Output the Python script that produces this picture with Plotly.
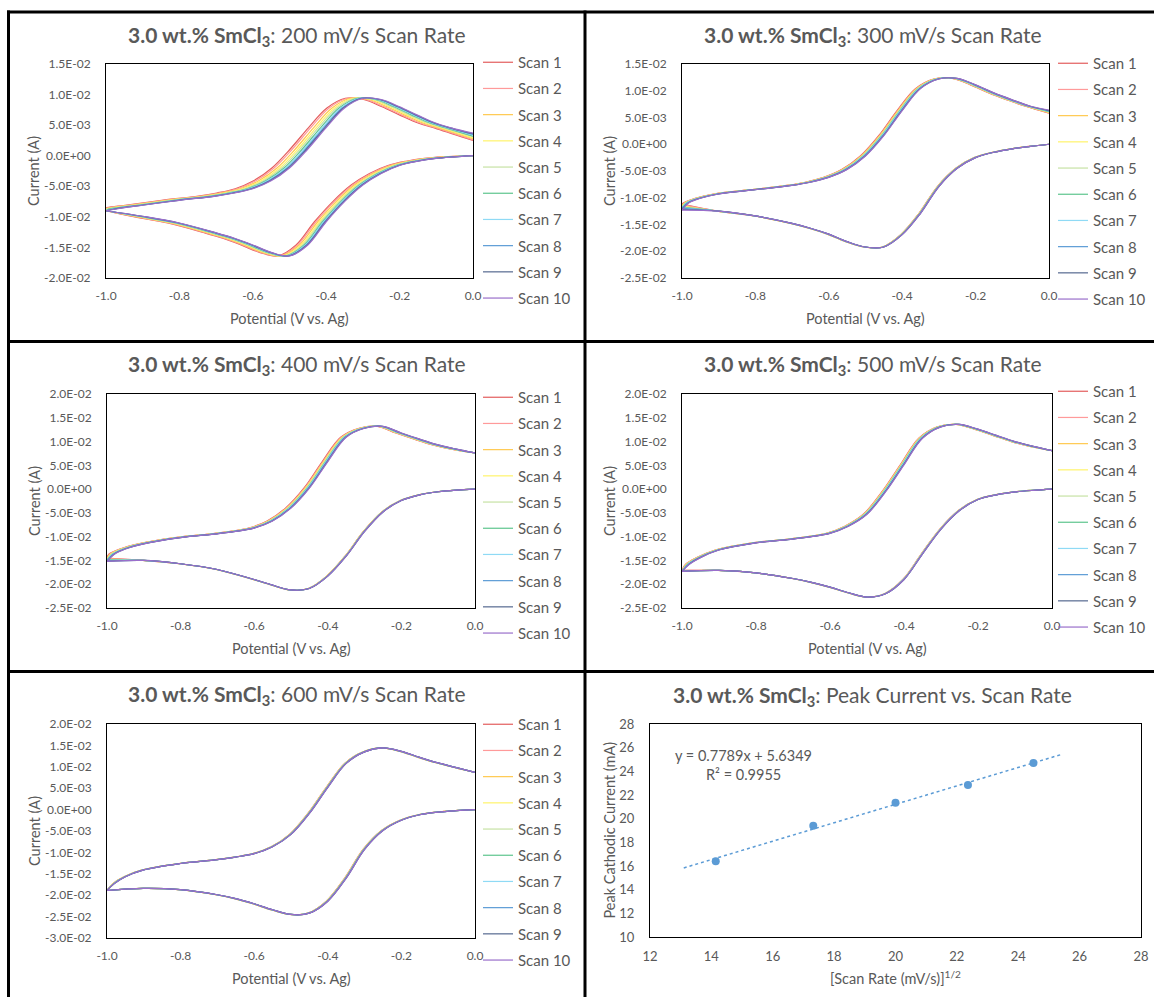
import plotly.graph_objects as go

W, H = 1154, 997
FONT = "Lato"
GRAY = "#595959"

# ---------------- data ----------------
scan_names = ["Scan 1", "Scan 2", "Scan 3", "Scan 4", "Scan 5",
              "Scan 6", "Scan 7", "Scan 8", "Scan 9", "Scan 10"]
scan_colors = ["#E35D5D", "#FF9A9A", "#FFC94F", "#FFF36A", "#C6E2A4",
               "#5DC58D", "#8FDAF5", "#5B9BD5", "#55688F", "#9A6FCB"]

# potential grid (V vs. Ag): cathodic sweep 0 -> -1, anodic sweep -1 -> 0
E_cat = [0.0, -0.05, -0.1, -0.15, -0.2, -0.25, -0.3, -0.35, -0.4, -0.45,
         -0.5, -0.55, -0.6, -0.65, -0.7, -0.8, -0.9, -1.0]
E_ano = [-1.0, -0.98, -0.95, -0.9, -0.8, -0.7, -0.65, -0.6, -0.55, -0.5, -0.45,
         -0.4, -0.35, -0.3, -0.25, -0.2, -0.15, -0.1, -0.05, 0.0]

# currents in mA (last scan), per-scan potential shifts (V), vertex & end currents (mA)
i_cat_200 = [0.0, -0.2, -0.45, -0.9, -1.6, -2.9, -4.8, -7.5, -10.8, -14.6,
             -16.4, -15.8, -14.6, -13.5, -12.6, -11.0, -9.9, -9.0]
i_ano_200 = [-9.0, -8.8, -8.5, -8.1, -7.3, -6.6, -6.1, -5.4, -4.1, -2.0, 1.1,
             4.6, 7.8, 9.4, 9.2, 8.0, 6.6, 5.3, 4.4, 3.7]
shift_cat_200 = [-0.032, -0.028, -0.023, -0.018, -0.014, -0.010, -0.007, -0.004, -0.002, 0.0]
shift_ano_200 = [-0.048, -0.042, -0.034, -0.027, -0.021, -0.015, -0.010, -0.006, -0.003, 0.0]
vertex_200 = [-9.0, -9.0, -9.0, -9.0, -9.0, -9.0, -9.0, -9.0, -9.0, -9.0]
end_200 = [2.5, 2.6, 2.8, 2.9, 3.1, 3.2, 3.35, 3.5, 3.6, 3.7]

i_cat_300 = [0.0, -0.4, -0.85, -1.5, -2.5, -4.5, -7.9, -12.9, -16.9, -19.2,
             -19.2, -18.2, -16.8, -15.7, -14.8, -13.4, -12.5, -12.0]
i_ano_300 = [-12.0, -10.9, -10.1, -9.3, -8.5, -7.7, -7.1, -6.2, -4.7, -2.2, 1.6,
             6.3, 10.4, 12.2, 12.3, 11.1, 9.6, 8.3, 7.1, 6.3]
shift_cat_300 = [-0.004, -0.004, -0.003, -0.003, -0.002, -0.002, -0.001, -0.001, 0.0, 0.0]
shift_ano_300 = [-0.014, -0.012, -0.011, -0.009, -0.008, -0.006, -0.005, -0.003, -0.001, 0.0]
vertex_300 = [-11.2, -11.3, -11.5, -11.6, -11.7, -11.8, -11.9, -12.0, -12.2, -12.3]
end_300 = [5.8, 5.85, 5.9, 6.0, 6.05, 6.1, 6.2, 6.25, 6.3, 6.4]

i_cat_400 = [0.0, -0.2, -0.55, -1.2, -2.4, -4.8, -8.9, -14.1, -18.3, -20.9,
             -21.2, -20.2, -19.0, -17.9, -16.9, -15.7, -15.0, -15.0]
i_ano_400 = [-15.0, -13.7, -12.6, -11.5, -10.2, -9.4, -8.9, -8.2, -6.7, -4.0, 0.2,
             5.8, 10.9, 12.8, 13.2, 11.8, 10.5, 9.3, 8.4, 7.6]
shift_cat_400 = [-0.003, -0.003, -0.003, -0.002, -0.002, -0.001, -0.001, -0.001, 0.0, 0.0]
shift_ano_400 = [-0.015, -0.013, -0.011, -0.010, -0.008, -0.006, -0.005, -0.003, -0.001, 0.0]
vertex_400 = [-14.5, -14.6, -14.7, -14.8, -14.9, -14.9, -15.0, -15.1, -15.2, -15.2]
end_400 = [7.6, 7.6, 7.6, 7.6, 7.6, 7.6, 7.6, 7.6, 7.6, 7.6]

i_cat_500 = [0.0, -0.25, -0.6, -1.2, -2.2, -4.5, -8.4, -13.6, -19.0, -22.0,
             -22.7, -21.8, -20.6, -19.6, -18.8, -17.6, -17.1, -17.3]
i_ano_500 = [-17.3, -15.8, -14.4, -12.8, -11.3, -10.5, -10.0, -9.3, -7.8, -5.3, -0.6,
             5.1, 10.7, 13.1, 13.6, 12.6, 11.3, 10.0, 9.0, 8.1]
shift_cat_500 = [-0.003, -0.003, -0.002, -0.002, -0.002, -0.001, -0.001, 0.0, 0.0, 0.0]
shift_ano_500 = [-0.010, -0.009, -0.008, -0.007, -0.006, -0.005, -0.004, -0.002, -0.001, 0.0]
vertex_500 = [-17.1, -17.1, -17.2, -17.2, -17.2, -17.3, -17.3, -17.3, -17.3, -17.3]
end_500 = [8.1, 8.1, 8.1, 8.1, 8.1, 8.1, 8.1, 8.1, 8.1, 8.1]

i_cat_600 = [0.0, -0.25, -0.6, -1.2, -2.5, -4.9, -9.3, -16.0, -21.4, -24.2,
             -24.5, -23.4, -22.0, -20.8, -19.9, -18.7, -18.4, -18.9]
i_ano_600 = [-18.9, -17.3, -15.7, -14.1, -12.6, -11.7, -11.1, -10.3, -8.7, -5.8, -0.9,
             5.2, 10.8, 13.5, 14.4, 13.6, 12.2, 10.9, 9.8, 8.7]
shift_cat_600 = [-0.004, -0.004, -0.003, -0.003, -0.002, -0.002, -0.001, -0.001, 0.0, 0.0]
shift_ano_600 = [-0.004, -0.004, -0.003, -0.003, -0.002, -0.002, -0.001, -0.001, 0.0, 0.0]
vertex_600 = [-18.9, -18.9, -18.9, -18.9, -18.9, -18.9, -18.9, -18.9, -18.9, -18.9]
end_600 = [8.7, 8.7, 8.7, 8.7, 8.7, 8.7, 8.7, 8.7, 8.7, 8.7]

x_ticks_cv = [-1.0, -0.8, -0.6, -0.4, -0.2, 0.0]
y_ticks_200 = [-0.020, -0.015, -0.010, -0.005, 0.0, 0.005, 0.010, 0.015]
y_ticks_300 = [-0.025, -0.020, -0.015, -0.010, -0.005, 0.0, 0.005, 0.010, 0.015]
y_ticks_400 = [-0.025, -0.020, -0.015, -0.010, -0.005, 0.0, 0.005, 0.010, 0.015, 0.020]
y_ticks_500 = [-0.025, -0.020, -0.015, -0.010, -0.005, 0.0, 0.005, 0.010, 0.015, 0.020]
y_ticks_600 = [-0.030, -0.025, -0.020, -0.015, -0.010, -0.005, 0.0, 0.005, 0.010, 0.015, 0.020]

# peak current vs scan rate
scan_rates = [200, 300, 400, 500, 600]           # mV/s
peak_cathodic = [16.4, 19.4, 21.35, 22.85, 24.7]  # mA
fit_slope, fit_intercept, fit_r2 = 0.7789, 5.6349, 0.9955
fit_x_range = [13.1, 25.45]

# ---------------- layout helpers ----------------
def px(p):
    return p / W

def py(p):
    return 1 - p / H

TICK = 12
LEG = 15
TTL = 21
AX = 14.5

panels = [
    dict(rate=200, i_cat=i_cat_200, i_ano=i_ano_200, s_cat=shift_cat_200, s_ano=shift_ano_200,
         vtx=vertex_200, end=end_200, yt=y_ticks_200, xd=(106, 473), yd=(64, 278),
         leg=(478, 46), tc=(297, 36)),
    dict(rate=300, i_cat=i_cat_300, i_ano=i_ano_300, s_cat=shift_cat_300, s_ano=shift_ano_300,
         vtx=vertex_300, end=end_300, yt=y_ticks_300, xd=(682, 1049), yd=(64, 278),
         leg=(1053, 47), tc=(873, 36)),
    dict(rate=400, i_cat=i_cat_400, i_ano=i_ano_400, s_cat=shift_cat_400, s_ano=shift_ano_400,
         vtx=vertex_400, end=end_400, yt=y_ticks_400, xd=(107, 475), yd=(394, 608),
         leg=(478, 381), tc=(297, 365)),
    dict(rate=500, i_cat=i_cat_500, i_ano=i_ano_500, s_cat=shift_cat_500, s_ano=shift_ano_500,
         vtx=vertex_500, end=end_500, yt=y_ticks_500, xd=(682, 1052), yd=(394, 608),
         leg=(1053, 375), tc=(873, 365)),
    dict(rate=600, i_cat=i_cat_600, i_ano=i_ano_600, s_cat=shift_cat_600, s_ano=shift_ano_600,
         vtx=vertex_600, end=end_600, yt=y_ticks_600, xd=(107, 475), yd=(724, 938),
         leg=(478, 708), tc=(297, 695)),
]

fig = go.Figure()
layout = dict(width=W, height=H,
              margin=dict(l=0, r=0, t=0, b=0, pad=0, autoexpand=False),
              paper_bgcolor="white", plot_bgcolor="white",
              font=dict(family=FONT, color=GRAY), showlegend=True)
annotations = []


def scan_xy(p, k):
    xs, ys = [], []
    for e, i in zip(E_cat, p["i_cat"]):
        xs.append(e if e in (0.0, -1.0) else e + p["s_cat"][k])
        ys.append((p["vtx"][k] if e == -1.0 else i) * 1e-3)
    xs.append(None)
    ys.append(None)
    for e, i in zip(E_ano, p["i_ano"]):
        xs.append(e if e in (0.0, -1.0) else e + p["s_ano"][k])
        if e == -1.0:
            i = p["vtx"][k]
        elif e == 0.0:
            i = p["end"][k]
        ys.append(i * 1e-3)
    return xs, ys


for n, p in enumerate(panels, start=1):
    sfx = "" if n == 1 else str(n)
    legname = "legend" if n == 1 else f"legend{n}"
    for k in range(10):
        xs, ys = scan_xy(p, k)
        fig.add_trace(go.Scatter(
            x=xs, y=ys, mode="lines", name=scan_names[k],
            line=dict(color=scan_colors[k], width=1.2, shape="spline", smoothing=1.0),
            connectgaps=False, xaxis=f"x{sfx}", yaxis=f"y{sfx}",
            legend=legname, legendgroup=f"p{n}s{k}", hoverinfo="skip"))
    layout[f"xaxis{sfx}"] = dict(
        domain=[px(p["xd"][0]), px(p["xd"][1])], anchor=f"y{sfx}",
        range=[-1.0, 0.0], tickvals=x_ticks_cv,
        ticktext=[f"{v:.1f}" for v in x_ticks_cv],
        showline=True, linecolor="black", linewidth=1, mirror=True,
        showgrid=False, zeroline=False, ticks="", ticklabelstandoff=7,
        tickfont=dict(size=TICK, color=GRAY, family=FONT))
    yr = [p["yt"][0], p["yt"][-1]]
    layout[f"yaxis{sfx}"] = dict(
        domain=[py(p["yd"][1]), py(p["yd"][0])], anchor=f"x{sfx}",
        range=yr, tickvals=p["yt"], ticktext=[f"{v:.1E}" for v in p["yt"]],
        showline=True, linecolor="black", linewidth=1, mirror=True,
        showgrid=False, zeroline=False, ticks="", ticklabelstandoff=12,
        tickfont=dict(size=TICK, color=GRAY, family=FONT))
    layout[legname] = dict(
        x=px(p["leg"][0]), y=py(p["leg"][1]), xanchor="left", yanchor="top",
        bgcolor="rgba(0,0,0,0)", font=dict(size=LEG, color=GRAY, family=FONT),
        traceorder="grouped", tracegroupgap=3.7, itemwidth=30)
    # title
    annotations.append(dict(
        x=px(p["tc"][0]), y=py(p["tc"][1]), xref="paper", yref="paper",
        xanchor="center", yanchor="middle", showarrow=False,
        text=f"<b>3.0 wt.% SmCl<sub>3</sub></b>: {p['rate']} mV/s Scan Rate",
        font=dict(size=TTL, color=GRAY, family=FONT)))
    # axis titles
    xc = (p["xd"][0] + p["xd"][1]) / 2
    yc = (p["yd"][0] + p["yd"][1]) / 2
    annotations.append(dict(
        x=px(xc), y=py(p["yd"][1] + 40), xref="paper", yref="paper",
        xanchor="center", yanchor="middle", showarrow=False,
        text="Potential (V vs. Ag)", font=dict(size=AX, color=GRAY, family=FONT)))
    annotations.append(dict(
        x=px(p["xd"][0] - 73), y=py(yc), xref="paper", yref="paper",
        xanchor="center", yanchor="middle", showarrow=False, textangle=-90,
        text="Current (A)", font=dict(size=AX, color=GRAY, family=FONT)))

# ---------------- panel 6: peak current vs scan rate ----------------
sqrt_rate = [r ** 0.5 for r in scan_rates]
fig.add_trace(go.Scatter(
    x=fit_x_range, y=[fit_slope * v + fit_intercept for v in fit_x_range],
    mode="lines", line=dict(color="#5B9BD5", width=1.5, dash="dot"),
    xaxis="x6", yaxis="y6", showlegend=False, hoverinfo="skip"))
fig.add_trace(go.Scatter(
    x=sqrt_rate, y=peak_cathodic, mode="markers",
    marker=dict(color="#5B9BD5", size=8, line=dict(color="#5B9BD5", width=0)),
    xaxis="x6", yaxis="y6", showlegend=False))

x6 = (650, 1141)
y6 = (724, 937)
layout["xaxis6"] = dict(
    domain=[px(x6[0]), px(x6[1])], anchor="y6", range=[12, 28], dtick=2, tick0=12,
    showline=True, linecolor="black", linewidth=1, mirror=True,
    showgrid=False, zeroline=False, ticks="", ticklabelstandoff=7,
    tickfont=dict(size=TICK + 1, color=GRAY, family=FONT))
layout["yaxis6"] = dict(
    domain=[py(y6[1]), py(y6[0])], anchor="x6", range=[10, 28], dtick=2, tick0=10,
    showline=True, linecolor="black", linewidth=1, mirror=True,
    showgrid=False, zeroline=False, ticks="", ticklabelstandoff=12,
    tickfont=dict(size=TICK + 1, color=GRAY, family=FONT))
annotations += [
    dict(x=px(873), y=py(696), xref="paper", yref="paper", xanchor="center",
         yanchor="middle", showarrow=False,
         text="<b>3.0 wt.% SmCl<sub>3</sub></b>: Peak Current vs. Scan Rate",
         font=dict(size=TTL, color=GRAY, family=FONT)),
    dict(x=px((x6[0] + x6[1]) / 2), y=py(977), xref="paper", yref="paper",
         xanchor="center", yanchor="middle", showarrow=False,
         text="[Scan Rate (mV/s)]<sup>1/2</sup>",
         font=dict(size=AX, color=GRAY, family=FONT)),
    dict(x=px(609), y=py((y6[0] + y6[1]) / 2), xref="paper", yref="paper",
         xanchor="center", yanchor="middle", showarrow=False, textangle=-90,
         text="Peak Cathodic Current (mA)",
         font=dict(size=AX, color=GRAY, family=FONT)),
    dict(x=15.06, y=25.3, xref="x6", yref="y6", showarrow=False,
         xanchor="center", yanchor="middle",
         text=f"y = {fit_slope}x + {fit_intercept}",
         font=dict(size=AX, color=GRAY, family=FONT)),
    dict(x=15.06, y=23.7, xref="x6", yref="y6", showarrow=False,
         xanchor="center", yanchor="middle",
         text=f"R² = {fit_r2}",
         font=dict(size=AX, color=GRAY, family=FONT)),
]

# ---------------- cell borders ----------------
bw = 3
shapes = []
for yy in (12, 341.5, 671.5):
    shapes.append(dict(type="line", xref="paper", yref="paper",
                       x0=px(7), x1=1, y0=py(yy), y1=py(yy),
                       line=dict(color="black", width=bw)))
for xx in (8.5, 585):
    shapes.append(dict(type="line", xref="paper", yref="paper",
                       x0=px(xx), x1=px(xx), y0=py(10.5), y1=0,
                       line=dict(color="black", width=bw)))

layout["annotations"] = annotations
layout["shapes"] = shapes
fig.update_layout(**layout)
fig.write_html("out.html")
